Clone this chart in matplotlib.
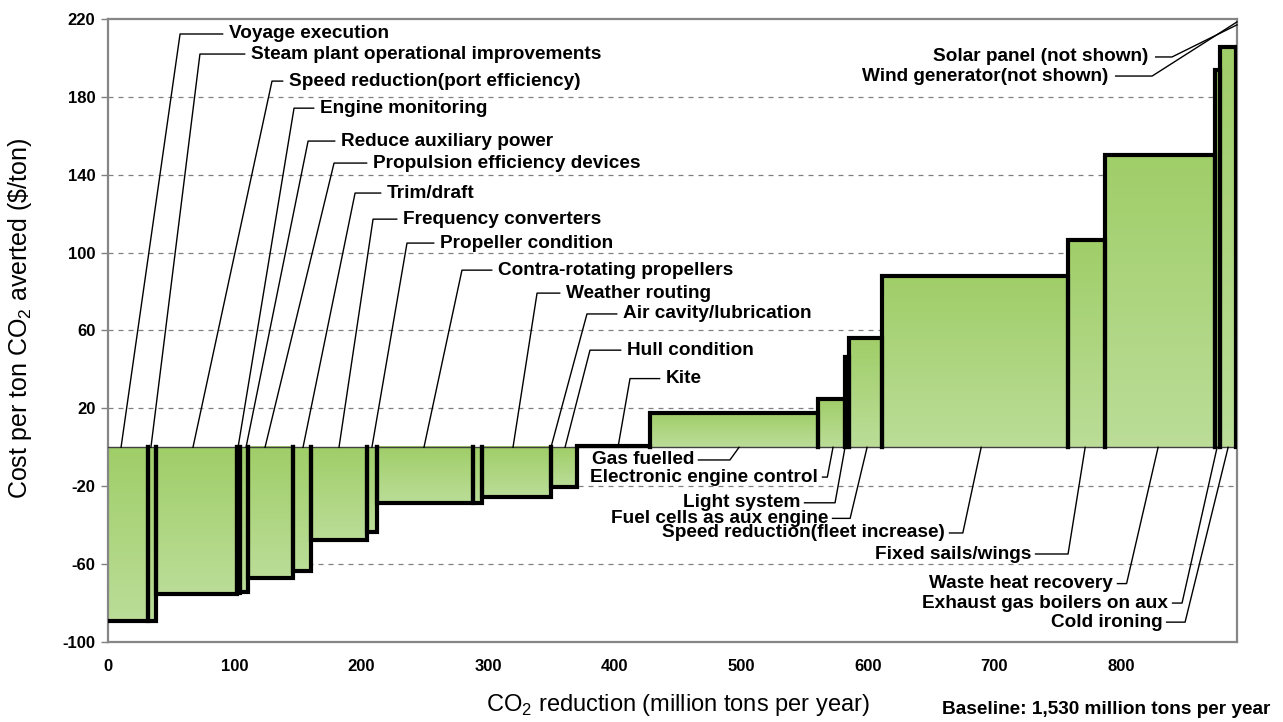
import matplotlib.pyplot as plt
import numpy as np
from matplotlib.colors import LinearSegmentedColormap

plt.rcParams['font.family'] = ['Liberation Sans', 'DejaVu Sans']
plt.rcParams['mathtext.fontset'] = 'custom'
plt.rcParams['mathtext.rm'] = 'Liberation Sans'
plt.rcParams['axes.unicode_minus'] = False

# abatement measures, in order of cost
measures = ['Voyage execution', 'Steam plant operational improvements',
            'Speed reduction(port efficiency)', 'Engine monitoring',
            'Reduce auxiliary power', 'Propulsion efficiency devices',
            'Trim/draft', 'Frequency converters', 'Propeller condition',
            'Contra-rotating propellers', 'Weather routing',
            'Air cavity/lubrication', 'Hull condition', 'Kite',
            'Gas fuelled', 'Electronic engine control', 'Light system',
            'Fuel cells as aux engine', 'Speed reduction(fleet increase)',
            'Fixed sails/wings', 'Waste heat recovery',
            'Exhaust gas boilers on aux', 'Cold ironing']
# CO2 reduction of each measure (million tons per year)
reduction = [31.6, 6.3, 64.0, 2.4, 6.3, 35.5, 14.2, 44.2, 7.9, 75.8, 7.1,
             54.5, 20.5, 57.7, 132.7, 21.3, 3.2, 26.0, 146.9, 29.2, 86.9,
             3.9, 12.7]
# cost per ton CO2 averted ($/ton)
cost = [-89, -89, -75.5, -75, -74.4, -67.3, -63.5, -47.7, -43.6, -28.8,
        -28.5, -25.7, -20.5, 0.8, 17.6, 24.7, 46.4, 56.0, 87.8, 106.3,
        150.3, 194, 205.5]
not_shown = ['Solar panel (not shown)', 'Wind generator(not shown)']

# label layout: (anchor x on baseline, elbow x, label y, text x)
top_layout = [(10.3, 56.9, 212.3, 95.5), (33.9, 72.6, 202.0, 112.9),
              (67.1, 129.5, 188.1, 142.9), (102.7, 146.9, 174.2, 167.4),
              (109.0, 158.0, 157.3, 184.0), (124.0, 178.5, 146.0, 209.2),
              (154.0, 195.1, 130.6, 220.3), (182.4, 209.3, 117.2, 233.0),
              (208.4, 236.1, 104.9, 262.2), (249.5, 279.5, 91.0, 308.0),
              (319.8, 338.8, 79.2, 361.7), (349.8, 378.2, 68.5, 406.7),
              (360.9, 380.6, 49.9, 409.8), (402.7, 412.2, 35.3, 440.6)]
bottom_layout = [(498.3, 491.1, -6.5, 462.7), (572.5, 568.0, -15.3, 560.7),
                 (582.0, 574.1, -28.5, 546.5), (599.4, 586.0, -36.5, 568.6),
                 (689.5, 675.0, -44.0, 661.0), (771.6, 758.1, -54.8, 728.9),
                 (829.2, 804.3, -70.0, 793.6), (875.8, 848.1, -80.0, 837.1),
                 (884.5, 850.5, -89.8, 832.4)]
ns_layout = [(891.5, 217.0, 840.2, 200.5, 821.3),
             (891.5, 218.5, 824.5, 190.7, 789.7)]

xmax = 891.5
fig = plt.figure(figsize=(12.83, 7.22), dpi=100)
ax = fig.add_axes([108/1283, 1-642/722, 1129/1283, 623/722])

green = LinearSegmentedColormap.from_list('g', ['#bbdd98', '#a0ce68'])
grad = np.linspace(0, 1, 200).reshape(-1, 1)

lefts = np.concatenate([[0], np.cumsum(reduction)[:-1]])
for i, (x0, w, c) in enumerate(zip(lefts, reduction, cost)):
    x1 = x0 + w
    ax.imshow(grad, extent=[x0, x1, min(0, c), max(0, c)], origin='lower',
              cmap=green, aspect='auto', zorder=2)
    if i == 0:
        xs, ys = [x0, x1, x1], [c, c, 0]
    else:
        xs, ys = [x0, x0, x1, x1], [0, c, c, 0]
    ax.plot(xs, ys, color='black', lw=3, solid_joinstyle='miter',
            solid_capstyle='projecting', zorder=4)

ax.axhline(0, color='#404040', lw=1, zorder=3)

fs = 13.7
for name, (xa, xe, y, xt) in zip(measures[:14], top_layout):
    ax.plot([xa, xe, xt - 5], [0, y, y], color='black', lw=1, zorder=5)
    ax.text(xt, y, name, ha='left', va='center', fontsize=fs,
            fontweight='bold', zorder=6)
for name, (xa, xe, y, xt) in zip(measures[14:], bottom_layout):
    ax.plot([xt + 3.5, xe, xa], [y, y, 0], color='black', lw=1, zorder=5)
    ax.text(xt, y, name, ha='right', va='center', fontsize=fs,
            fontweight='bold', zorder=6)
for name, (xa, ya, xe, y, xt) in zip(not_shown, ns_layout):
    ax.plot([xt + 6, xe, xa], [y, y, ya], color='black', lw=1, zorder=5,
            clip_on=False)
    ax.text(xt, y, name, ha='right', va='center', fontsize=fs,
            fontweight='bold', zorder=6)

ax.set_xlim(0, xmax)
ax.set_ylim(-100, 220)
ax.set_yticks(np.arange(-100, 221, 40))
ax.set_xticks(np.arange(0, 801, 100))
for g in np.arange(-60, 181, 40):
    ax.axhline(g, color='#808080', lw=0.9, ls=(0, (4, 4)), zorder=1)
ax.tick_params(axis='x', length=0, pad=12, labelsize=12)
ax.tick_params(axis='y', length=5, width=1, color='#808080', pad=4, labelsize=12)
for lab in ax.get_xticklabels() + ax.get_yticklabels():
    lab.set_fontweight('bold')
for s in ax.spines.values():
    s.set_color('#868686')
    s.set_linewidth(1.6)

ax.set_xlabel('CO$_\\mathregular{2}$ reduction (million tons per year)',
              fontsize=17, va='center')
ax.xaxis.set_label_coords(0.505, -0.101)
ax.set_ylabel('Cost per ton CO$_\\mathregular{2}$ averted (\\$/ton)',
              fontsize=18, va='center')
ax.yaxis.set_label_coords(-0.078, 0.52)
fig.text(1270/1283, 1-710/722, 'Baseline: 1,530 million tons per year',
         ha='right', va='center', fontsize=13.7, fontweight='bold')

fig.savefig('out.png', dpi=100)
